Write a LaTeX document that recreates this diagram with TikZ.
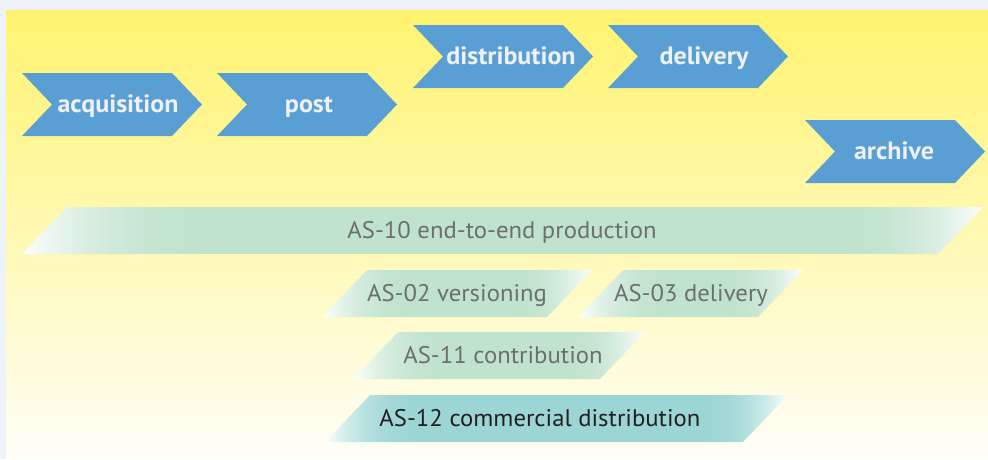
\documentclass[tikz,border=0pt]{standalone}
\usepackage{fontspec}
\setmainfont{PT Sans}
\newfontfamily\chevfont[FakeStretch=1.04]{PT Sans}
\newfontfamily\barfont[FakeStretch=1.03]{PT Sans}
\definecolor{outer}{HTML}{EDF3F8}
\definecolor{bgtop}{HTML}{FFF36E}
\definecolor{bgbot}{HTML}{FFFEF8}
\definecolor{chev}{HTML}{5A9FD4}
\definecolor{chevtxt}{HTML}{EEF1F8}
\definecolor{barg}{HTML}{C0E3CD}
\definecolor{bart}{HTML}{9CD6D4}
\definecolor{bartxt}{HTML}{6D6E71}
\definecolor{darktxt}{HTML}{231F20}
\pgfdeclarehorizontalshading{bargL}{100bp}{color(0bp)=(barg!4!white); color(25bp)=(barg!4!white); color(37.5bp)=(barg!46!white); color(50bp)=(barg!76!white); color(62.5bp)=(barg!94!white); color(75bp)=(barg); color(100bp)=(barg)}
\pgfdeclarehorizontalshading{bargR}{100bp}{color(0bp)=(barg); color(25bp)=(barg); color(37.5bp)=(barg!94!white); color(50bp)=(barg!76!white); color(62.5bp)=(barg!46!white); color(75bp)=(barg!4!white); color(100bp)=(barg!4!white)}
\pgfdeclarehorizontalshading{bartL}{100bp}{color(0bp)=(bart!4!white); color(25bp)=(bart!4!white); color(37.5bp)=(bart!46!white); color(50bp)=(bart!76!white); color(62.5bp)=(bart!94!white); color(75bp)=(bart); color(100bp)=(bart)}
\pgfdeclarehorizontalshading{bartR}{100bp}{color(0bp)=(bart); color(25bp)=(bart); color(37.5bp)=(bart!94!white); color(50bp)=(bart!76!white); color(62.5bp)=(bart!46!white); color(75bp)=(bart!4!white); color(100bp)=(bart!4!white)}
\tikzset{
  chevlabel/.style={anchor=base, inner sep=0pt, text=chevtxt, font=\chevfont\fontsize{25}{25}\selectfont\bfseries},
  barlabel/.style={anchor=base, inner sep=0pt, text=bartxt, font=\barfont\fontsize{24}{24}\selectfont},
}
% #1 name, #2 left x, #3 top y, #4 text x, #5 text
\newcommand\chevron[5]{%
  \fill[chev] (#2,#3) -- ++(150,0) -- ++(30,31.5) -- ++(-30,31.5) -- ++(-150,0) -- ++(30,-31.5) -- cycle;
  \node[chevlabel] (#1) at (#4,#3+39) {#5};
}
% #1 name, #2 left-bottom x, #3 top y, #4 right-top x, #5 colour, #6 left fade, #7 right fade, #8 text x, #9 text
\newcommand\asbar[9]{%
  \begin{scope}
    \clip (#2,#3+47) -- (#2+45,#3) -- (#4,#3) -- (#4-45,#3+47) -- cycle;
    \fill[#5] (#2+#6-1,#3) rectangle (#4-#7+1,#3+47);
    \shade[shading=#5L] (#2,#3) rectangle (#2+#6,#3+47);
    \shade[shading=#5R] (#4-#7,#3) rectangle (#4,#3+47);
  \end{scope}
  \node[barlabel] (#1) at (#8,#3+31) {#9};
}
\begin{document}
\begin{tikzpicture}[x=1pt, y=-1pt]
\useasboundingbox (0,0) rectangle (988,459);
\fill[outer] (0,0) rectangle (988,459);
\fill[top color=bgtop, bottom color=bgbot] (6,10) rectangle (988,459);
\chevron{acq}{22}{73}{118}{acquisition}
\chevron{post}{217}{73}{309}{post}
\chevron{dist}{413}{25}{511}{distribution}
\chevron{deliv}{608}{25}{704}{delivery}
\chevron{arch}{805}{120}{894}{archive}
\asbar{as10}{22}{207}{983}{barg}{180}{135}{502}{AS-10 end-to-end production}
\asbar{as02}{322}{270}{592}{barg}{85}{75}{457}{AS-02 versioning}
\asbar{as03}{578}{270}{803}{barg}{85}{75}{691}{AS-03 delivery}
\asbar{as11}{353}{332}{645}{barg}{85}{75}{503}{AS-11 contribution}
\asbar{as12}{325}{395}{788}{bart}{85}{80}{540}{\textcolor{darktxt}{AS-12 commercial distribution}}
\end{tikzpicture}
\end{document}
